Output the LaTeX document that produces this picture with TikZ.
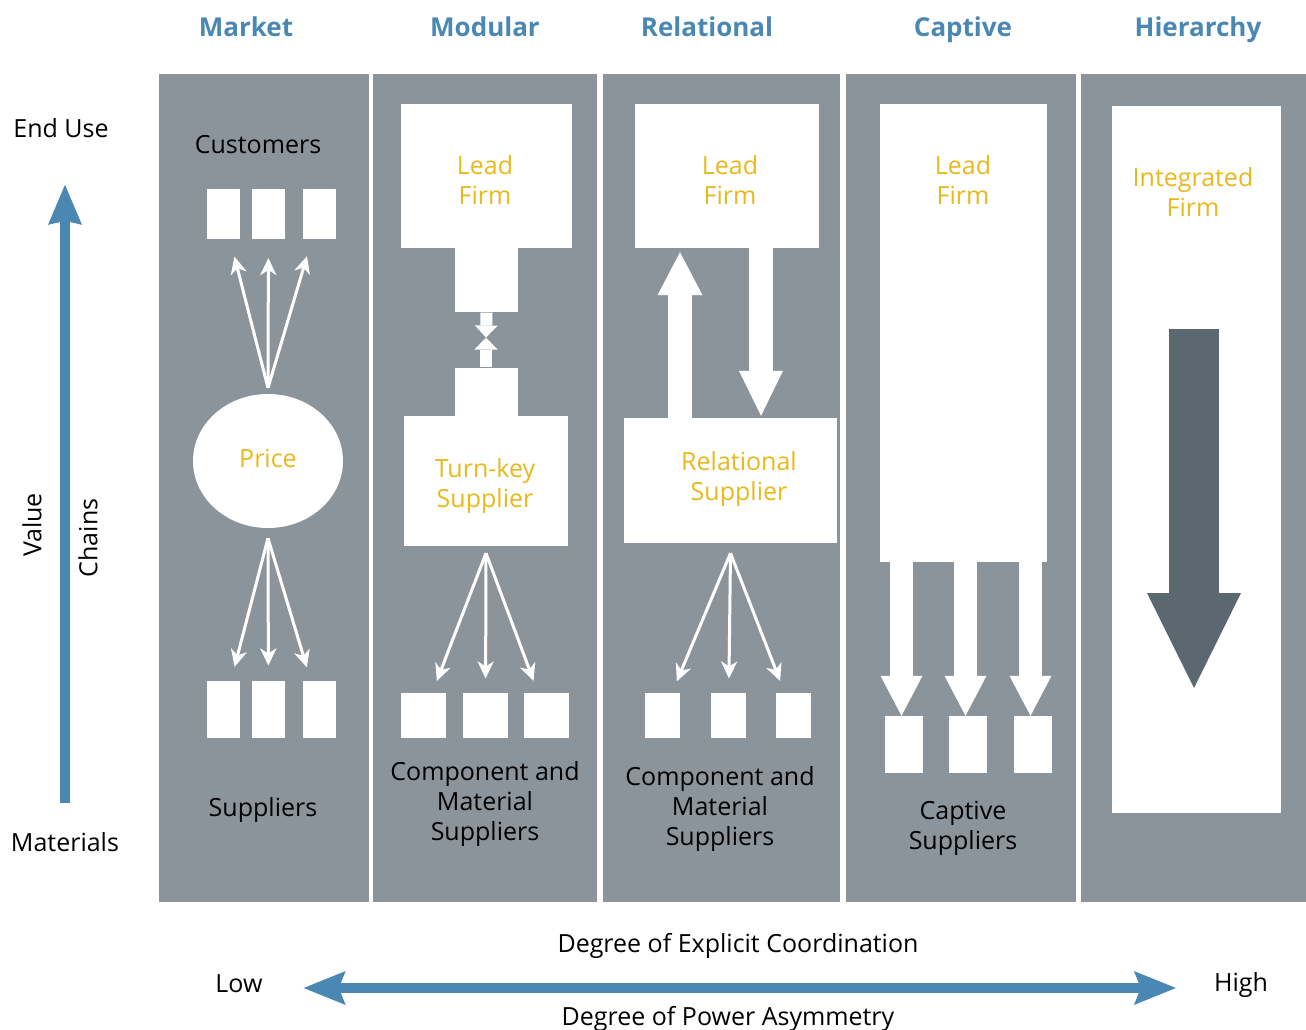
\documentclass[tikz,border=0pt]{standalone}
\usepackage{fontspec}
\setmainfont{Open Sans}
\usetikzlibrary{positioning,arrows.meta,shapes.geometric}

\definecolor{panelgray}{HTML}{8C949B}
\definecolor{gvcblue}{HTML}{4A87B2}
\definecolor{firmgold}{HTML}{E8B91C}
\definecolor{slate}{HTML}{5C6870}

\begin{document}
\begin{tikzpicture}[x=1pt, y=-1pt,
    txt/.style={font=\fontsize{25}{30}\selectfont, align=center, inner sep=0pt},
    gold/.style={txt, text=firmgold},
    hd/.style={font=\fontsize{26}{30}\selectfont\bfseries, text=gvcblue, anchor=base},
    panel/.style={fill=panelgray, inner sep=0pt, anchor=north west, minimum height=828pt},
    wb/.style={fill=white, inner sep=0pt},
    thin/.style={draw=white, line width=3pt, -{Stealth[length=17pt,width=16pt,inset=5pt]}},
    fat/.style={draw=white, line width=#1},
    axis/.style={draw=gvcblue, line width=10pt}]
    \useasboundingbox (0,0) rectangle (1306,1030);

    % columns
    \node[panel, minimum width=210pt] (p market) at (159,74) {};
    \node[panel, minimum width=224pt] (p modular) at (373,74) {};
    \node[panel, minimum width=237pt] (p relational) at (603,74) {};
    \node[panel, minimum width=230pt] (p captive) at (846,74) {};
    \node[panel, minimum width=225pt] (p hierarchy) at (1081,74) {};

    \node[hd] (h market) at (246,37) {Market};
    \node[hd] (h modular) at (485,37) {Modular};
    \node[hd] (h relational) at (707,37) {Relational};
    \node[hd] (h captive) at (963,37) {Captive};
    \node[hd] (h hierarchy) at (1198,37) {Hierarchy};

    % market
    \node[txt] (customers) at (258,145) {Customers};
    \node[wb, minimum width=33pt, minimum height=50pt] (mt1) at (223.5,214) {};
    \node[wb, minimum width=33pt, minimum height=50pt] (mt2) at (268.5,214) {};
    \node[wb, minimum width=33pt, minimum height=50pt] (mt3) at (319.5,214) {};
    \node[ellipse, fill=white, minimum width=150pt, minimum height=134pt, inner sep=0pt] (price) at (268,461) {};
    \node[gold] at (268,458) {Price};
    \node[wb, minimum width=33pt, minimum height=57pt] (mb1) at (223.5,709.5) {};
    \node[wb, minimum width=33pt, minimum height=57pt] (mb2) at (268.5,709.5) {};
    \node[wb, minimum width=33pt, minimum height=57pt] (mb3) at (319.5,709.5) {};
    \node[txt] (m sup) at (263,810) {Suppliers};
    \foreach \b in {mt1,mt2,mt3}
        \draw[thin, shorten >=44pt] ([yshift=6pt]price.north) -- (\b.center);
    \foreach \b in {mb1,mb2,mb3}
        \draw[thin, shorten >=44pt] ([yshift=-10pt]price.south) -- (\b.center);

    % modular
    \node[wb, minimum width=171pt, minimum height=144pt] (mod lead) at (486.5,176) {};
    \node[gold] at (485,180) {Lead\\Firm};
    \node[wb, minimum width=63pt, minimum height=64pt, below=0pt of mod lead] (mod neck1) {};
    \node[wb, minimum width=164pt, minimum height=130pt] (turnkey) at (486,481) {};
    \node[gold] at (485,486) {Turn-key\\Supplier};
    \node[wb, minimum width=63pt, minimum height=48pt, above=0pt of turnkey] (mod neck2) {};
    \coordinate (mod meet) at (486,337.5);
    \draw[fat=12pt, -{Triangle[length=12pt,width=23pt,line width=0pt]}] (mod neck1.south) -- (mod meet);
    \draw[fat=12pt, -{Triangle[length=12pt,width=23pt,line width=0pt]}] (mod neck2.north) -- (mod meet);
    \node[wb, minimum width=45pt, minimum height=45pt] (ob1) at (423.5,715.5) {};
    \node[wb, minimum width=45pt, minimum height=45pt] (ob2) at (485.5,715.5) {};
    \node[wb, minimum width=45pt, minimum height=45pt] (ob3) at (546.5,715.5) {};
    \node[txt] (mod sup) at (485,804) {Component and\\Material\\Suppliers};
    \foreach \b in {ob1,ob2,ob3}
        \draw[thin, shorten >=37pt] ([yshift=-7pt]turnkey.south) -- (\b.center);

    % relational
    \node[wb, minimum width=184pt, minimum height=144pt] (rel lead) at (727,176) {};
    \node[gold] at (730,180) {Lead\\Firm};
    \node[wb, minimum width=213pt, minimum height=125pt] (rel sup) at (730.5,480.5) {};
    \node[gold] at (739,479) {Relational\\Supplier};
    \draw[fat=24pt, shorten >=4pt, -{Triangle[length=43pt,width=45pt,line width=0pt]}]
        ([xshift=-50.5pt]rel sup.north) -- ([xshift=-50.5pt]rel sup.north |- rel lead.south);
    \draw[fat=24pt, shorten >=2pt, -{Triangle[length=45pt,width=44pt,line width=0pt]}]
        ([xshift=34pt]rel lead.south) -- ([xshift=34pt]rel lead.south |- rel sup.north);
    \node[wb, minimum width=35pt, minimum height=45pt] (rb1) at (662.5,715.5) {};
    \node[wb, minimum width=35pt, minimum height=45pt] (rb2) at (728.5,715.5) {};
    \node[wb, minimum width=35pt, minimum height=45pt] (rb3) at (793.5,715.5) {};
    \node[txt] (rel cms) at (720,809) {Component and\\Material\\Suppliers};
    \foreach \b in {rb1,rb2,rb3}
        \draw[thin, shorten >=37pt] ([yshift=-10pt]rel sup.south) -- (\b.center);

    % captive
    \node[wb, minimum width=167pt, minimum height=458pt] (cap lead) at (963.5,333) {};
    \node[gold] at (963,180) {Lead\\Firm};
    \node[wb, minimum width=38pt, minimum height=57pt] (cb1) at (904,744.5) {};
    \node[wb, minimum width=38pt, minimum height=57pt] (cb2) at (968,744.5) {};
    \node[wb, minimum width=38pt, minimum height=57pt] (cb3) at (1033,744.5) {};
    \node[txt] (cap sup) at (963,828) {Captive\\Suppliers};
    \foreach \b in {cb1,cb2,cb3}
        \draw[fat=23pt, -{Triangle[length=40pt,width=42pt,line width=0pt]}]
            ([xshift=-2.5pt]\b.north |- cap lead.south) -- ([xshift=-2.5pt]\b.north);

    % hierarchy
    \node[wb, minimum width=169pt, minimum height=707pt] (int firm) at (1196.5,459.5) {};
    \node[gold] at (1193,192) {Integrated\\Firm};
    \coordinate (hier top) at (1194,329);
    \coordinate (hier tip) at (1194,688);
    \draw[draw=slate, line width=50pt, -{Triangle[length=95pt,width=94pt,line width=0pt]}]
        (hier top) -- (hier tip);

    % value chain axis
    \node[txt] (end use) at (61,128) {End Use};
    \node[txt] (materials) at (65,842) {Materials};
    \node[txt, rotate=90] (value) at (32,525) {Value};
    \node[txt, rotate=90] (chains) at (88,538) {Chains};
    \draw[axis, shorten <=29pt, shorten >=47pt, -{Stealth[length=40pt,width=34pt,inset=4pt,line width=0pt]}]
        (materials.north) -- (materials.north |- end use.south);

    % coordination / power axis
    \node[txt] (explicit) at (738,946) {Degree of Explicit Coordination};
    \node[txt] (low) at (239,984) {Low};
    \node[txt] (high) at (1241,985) {High};
    \node[txt] (power) at (728,1019) {Degree of Power Asymmetry};
    \draw[axis, shorten <=41pt, shorten >=38pt,
        {Stealth[length=42pt,width=34pt,inset=7pt,line width=0pt]}-{Stealth[length=42pt,width=34pt,inset=7pt,line width=0pt]}]
        ([yshift=-4pt]low.east) -- ([yshift=-4pt]low.east -| high.west);
\end{tikzpicture}
\end{document}
